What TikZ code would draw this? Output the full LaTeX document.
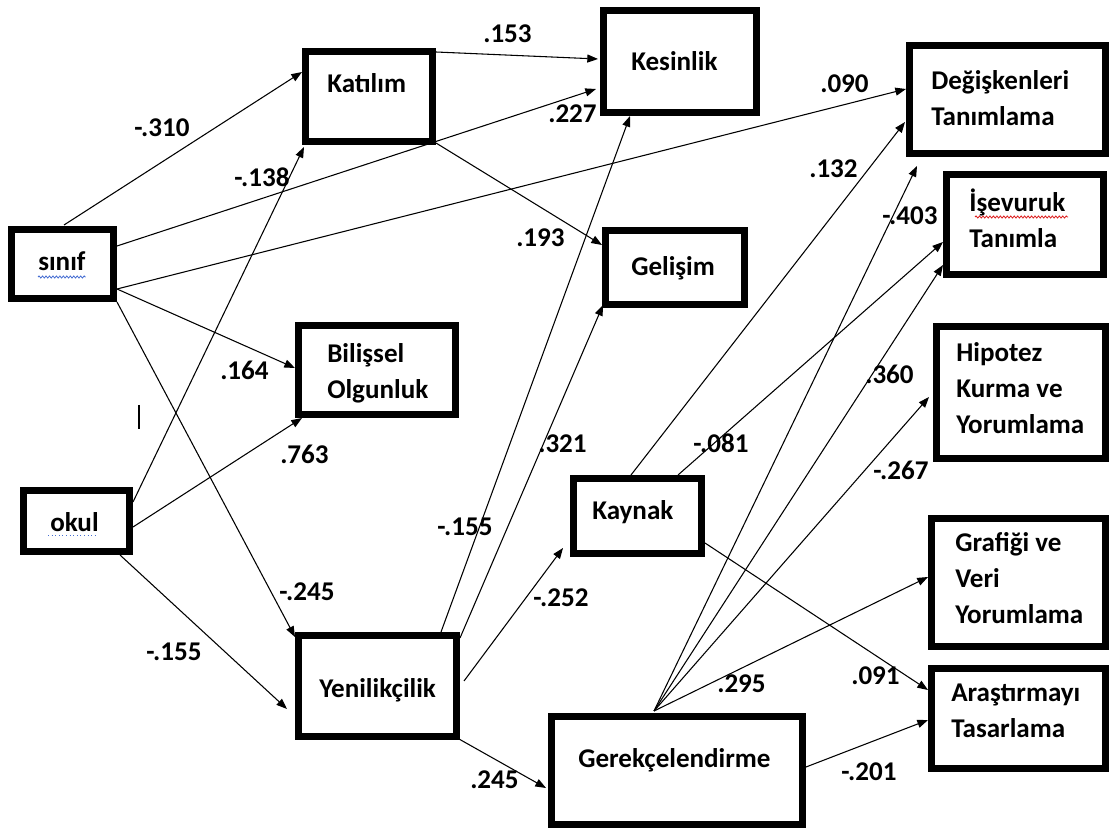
\documentclass[tikz,border=0pt]{standalone}
\usepackage{fontspec}
\setmainfont{Carlito}
\usetikzlibrary{arrows.meta,calc,decorations.pathmorphing}
\definecolor{spellblue}{RGB}{70,110,210}
\definecolor{spellred}{RGB}{220,30,30}
\tikzset{
  bx/.style={draw, line width=5pt, inner sep=0pt, rectangle},
  txt/.style={inner sep=0pt, anchor=base west, align=left,
              font=\fontsize{20.3}{27}\selectfont\bfseries},
  coef/.style={inner sep=0pt, anchor=base west,
               font=\fontsize{20.3}{24}\selectfont\bfseries},
  arr/.style={line width=0.8pt, -{Triangle[length=8pt,width=6pt]}},
  wavy/.style={line width=0.6pt, decorate,
               decoration={snake, amplitude=0.8pt, segment length=2.6pt}},
}
% box from outer corner (x1,y1) to (x2,y2)
\newcommand\mkbox[5]{%
  \node[bx, minimum width={(#4-#2)*0.75-5}, minimum height={(#5-#3)*0.75-5}]
    (#1) at ({(#2+#4)/2},{(#3+#5)/2}) {};}
\begin{document}
\begin{tikzpicture}[x=0.75pt,y=-0.75pt]
\useasboundingbox (0,0) rectangle (1110,830);

% boxes
\mkbox{sinif}{8}{226}{117}{302}
\mkbox{kat}{302}{48}{436}{145}
\mkbox{kes}{600}{7}{760}{116}
\mkbox{deg}{906}{42}{1109}{157}
\mkbox{isev}{943}{171}{1107}{278}
\mkbox{gel}{602}{227}{748}{308}
\mkbox{bil}{295}{322}{459}{418}
\mkbox{hip}{933}{323}{1109}{462}
\mkbox{okul}{20}{487}{133}{555}
\mkbox{kay}{570}{475}{705}{557}
\mkbox{graf}{928}{515}{1109}{650}
\mkbox{yen}{295}{632}{460}{740}
\mkbox{aras}{928}{665}{1109}{772}
\mkbox{ger}{548}{713}{806}{828}

% box texts (anchored at the baseline of the last line)
\node[txt] (tsinif) at (38,271) {sınıf};
\node[txt] (tkat) at (327,93) {Katılım};
\node[txt] (tkes) at (631,71) {Kesinlik};
\node[txt] (tdeg) at (931,126) {Değişkenleri\\Tanımlama};
\node[txt] (tisev) at (969,248) {İşevuruk\\Tanımla};
\node[txt] (tgel) at (631,276) {Gelişim};
\node[txt] (tbil) at (327,398) {Bilişsel\\Olgunluk};
\node[txt] (thip) at (956,433) {Hipotez\\Kurma ve\\Yorumlama};
\node[txt] (tokul) at (50,531) {okul};
\node[txt] (tkay) at (592,519) {Kaynak};
\node[txt] (tgraf) at (955,623) {Grafiği ve\\Veri\\Yorumlama};
\node[txt] (tyen) at (319,697) {Yenilikçilik};
\node[txt] (taras) at (951,737) {Araştırmayı\\Tasarlama};
\node[txt] (tger) at (578,767) {Gerekçelendirme};

% spell-check underlines and text cursor
\draw[wavy, spellblue] ($(tsinif.base west)+(0,6)$) -- ($(tsinif.base east)+(0,6)$);
\draw[spellblue, line width=0.7pt, dotted] ($(tokul.base west)+(-2,4)$) -- ($(tokul.base east)+(-2,4)$);
\draw[wavy, spellred] (975,217) -- (1068,217);
\draw[line width=0.8pt] (139,405) -- (139,429);

% paths
\draw[arr] ($(sinif.north west)+(56,-1)$) -- ($(kat.north west)+(0,24)$);
\draw[arr] ($(sinif.north west)+(109,20)$) -- ($(kes.north west)+(-4,82)$);
\draw[arr] ($(sinif.north west)+(109,63)$) -- ($(deg.north west)+(0,47)$);
\draw[arr] ($(sinif.north west)+(109,63)$) -- ($(bil.north west)+(0,46)$);
\draw[arr] ($(sinif.north west)+(109,76)$) -- ($(yen.north west)+(0,5)$);
\draw[arr] ($(okul.north west)+(113,15)$) -- ($(kat.north west)+(2,99)$);
\draw[arr] ($(okul.north west)+(113,40)$) -- ($(bil.north west)+(7,96)$);
\draw[arr] ($(okul.north west)+(100,68)$) -- ($(yen.north west)+(-8,77)$);
\draw[arr] ($(kat.north west)+(134,4)$) -- ($(kes.north west)+(-2,52)$);
\draw[arr] ($(kat.north west)+(134,95)$) -- ($(gel.north west)+(0,18)$);
\draw[arr] ($(yen.north west)+(146,0)$) -- ($(kes.north west)+(30,109)$);
\draw[arr] ($(yen.north west)+(165,6)$) -- ($(gel.north west)+(1,78)$);
\draw[arr] ($(yen.north west)+(169,49)$) -- ($(kay.north west)+(-7,73)$);
\draw[arr] ($(yen.north west)+(164,107)$) -- ($(ger.north west)+(-2,75)$);
\draw[arr] ($(kay.north west)+(61,0)$) -- ($(deg.north west)+(-1,80)$);
\draw[arr] ($(kay.north west)+(108,0)$) -- ($(isev.north west)+(0,71)$);
\draw[arr] ($(kay.north west)+(135,68)$) -- ($(aras.north west)+(0,25)$);
\draw[arr] ($(ger.north west)+(106,-2)$) -- ($(deg.north west)+(11,124)$);
\draw[arr] ($(ger.north west)+(106,-2)$) -- ($(isev.north west)+(0,94)$);
\draw[arr] ($(ger.north west)+(106,-2)$) -- ($(hip.north west)+(-4,74)$);
\draw[arr] ($(ger.north west)+(106,-2)$) -- ($(graf.north west)+(0,62)$);
\draw[arr] ($(ger.north west)+(258,54)$) -- ($(aras.north west)+(0,55)$);

% coefficients
\node[coef] (c1) at (483,43) {.153};
\node[coef] (c2) at (548,123) {.227};
\node[coef] (c3) at (516,247) {.193};
\node[coef] (c4) at (134,137) {-.310};
\node[coef] (c5) at (234,187) {-.138};
\node[coef] (c6) at (820,93) {.090};
\node[coef] (c7) at (809,178) {.132};
\node[coef] (c8) at (882,225) {-.403};
\node[coef] (c9) at (865,384) {.360};
\node[coef] (c10) at (220,380) {.164};
\node[coef] (c11) at (280,463) {.763};
\node[coef] (c12) at (279,600) {-.245};
\node[coef] (c13) at (146,660) {-.155};
\node[coef] (c14) at (470,788) {.245};
\node[coef] (c15) at (437,535) {-.155};
\node[coef] (c16) at (538,452) {.321};
\node[coef] (c17) at (533,606) {-.252};
\node[coef] (c18) at (693,452) {-.081};
\node[coef] (c19) at (873,479) {-.267};
\node[coef] (c20) at (717,692) {.295};
\node[coef] (c21) at (851,684) {.091};
\node[coef] (c22) at (841,780) {-.201};
\end{tikzpicture}
\end{document}
